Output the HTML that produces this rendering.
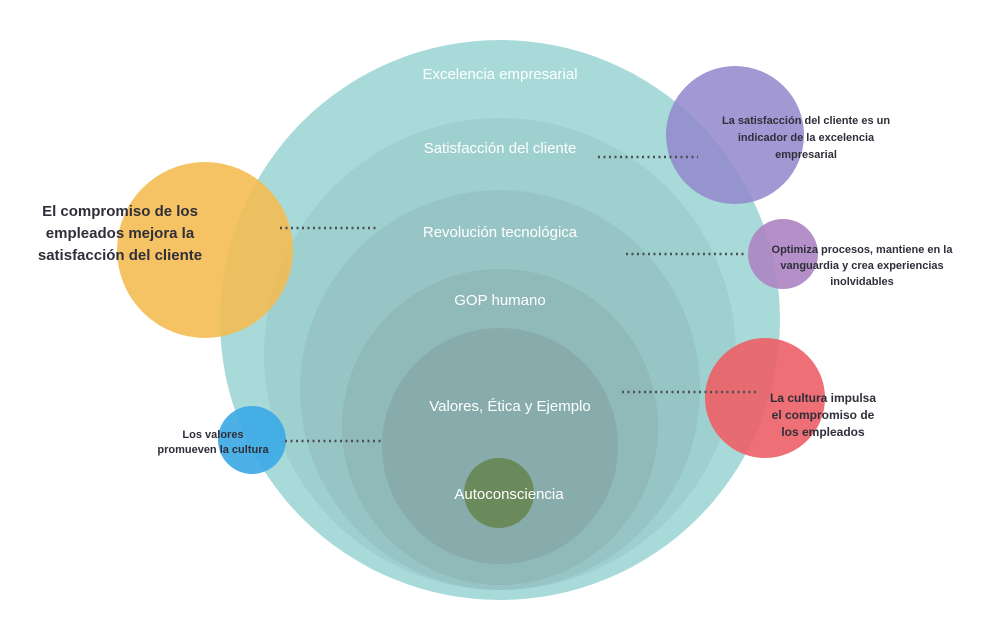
<!DOCTYPE html>
<html><head><meta charset="utf-8"><style>
body{margin:0;background:#fff}
svg{display:block}
text{font-family:"Liberation Sans",sans-serif}
</style></head><body>
<svg width="998" height="624" viewBox="0 0 998 624">
<circle cx="500" cy="320" r="280" fill="#a8dada"/>
<circle cx="500" cy="354" r="236" fill="#9ed0d0"/>
<circle cx="500" cy="390" r="200" fill="#97c5c5"/>
<circle cx="500" cy="427" r="158" fill="#90b9b9"/>
<circle cx="500" cy="446" r="118" fill="#88acac"/>
<circle cx="499" cy="493" r="35" fill="#6b8a5c"/>
<circle cx="205" cy="250" r="88" fill="#f5bb4e" fill-opacity="0.88"/>
<circle cx="735" cy="135" r="69" fill="#9287cc" fill-opacity="0.85"/>
<circle cx="783" cy="254" r="35" fill="#ad84c2" fill-opacity="0.9"/>
<circle cx="765" cy="398" r="60" fill="#ec5f66" fill-opacity="0.9"/>
<circle cx="252" cy="440" r="34" fill="#3aa9e6" fill-opacity="0.9"/>
<g stroke="#4a4f55" stroke-width="2.5" stroke-dasharray="2 3.5">
<line x1="598" y1="157" x2="698" y2="157"/>
<line x1="280" y1="228" x2="377" y2="228"/>
<line x1="626" y1="254" x2="744" y2="254"/>
<line x1="622" y1="392" x2="756" y2="392"/>
<line x1="285" y1="441" x2="381" y2="441"/>
</g>
<g fill="#fff" font-size="15" text-anchor="middle">
<text x="500" y="79">Excelencia empresarial</text>
<text x="500" y="153">Satisfacción del cliente</text>
<text x="500" y="237">Revolución tecnológica</text>
<text x="500" y="305">GOP humano</text>
<text x="510" y="411">Valores, Ética y Ejemplo</text>
<text x="509" y="499">Autoconsciencia</text>
</g>
<g fill="#2f2f3a" font-weight="bold" text-anchor="middle">
<g font-size="15"><text x="120" y="216">El compromiso de los</text><text x="120" y="238">empleados mejora la</text><text x="120" y="260">satisfacción del cliente</text></g>
<g font-size="11"><text x="213" y="438">Los valores</text><text x="213" y="453">promueven la cultura</text></g>
<g font-size="11"><text x="806" y="124">La satisfacción del cliente es un</text><text x="806" y="141">indicador de la excelencia</text><text x="806" y="158">empresarial</text></g>
<g font-size="11"><text x="862" y="253">Optimiza procesos, mantiene en la</text><text x="862" y="269">vanguardia y crea experiencias</text><text x="862" y="285">inolvidables</text></g>
<g font-size="12"><text x="823" y="402">La cultura impulsa</text><text x="823" y="419">el compromiso de</text><text x="823" y="436">los empleados</text></g>
</g>
</svg>
</body></html>
